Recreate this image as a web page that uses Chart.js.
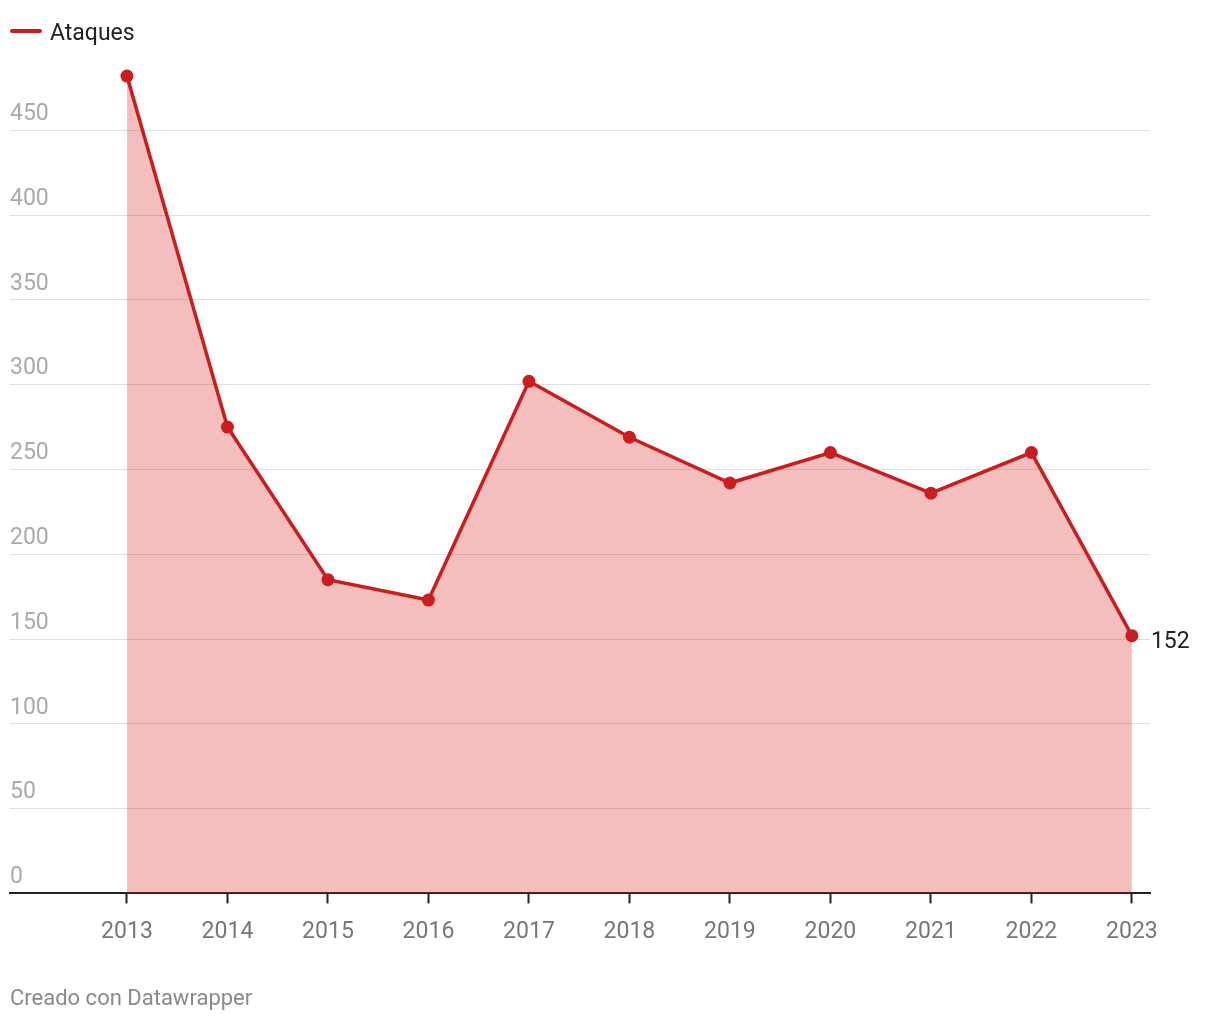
<!DOCTYPE html>
<html>
<head>
<meta charset="utf-8">
<script src="https://cdn.jsdelivr.net/npm/chart.js@4.4.1/dist/chart.umd.min.js"></script>
<style>
    html, body { margin: 0; padding: 0; background: #fff; }
    #wrap { width: 1220px; height: 1020px; position: relative; }
</style>
</head>
<body>
<div id="wrap"><canvas id="ataquesChart"></canvas></div>
<script>
const years = [2013, 2014, 2015, 2016, 2017, 2018, 2019, 2020, 2021, 2022, 2023];
const ataques = [482, 275, 185, 173, 302, 269, 242, 260, 236, 260, 152];
const yTicks = [0, 50, 100, 150, 200, 250, 300, 350, 400, 450];
const seriesLabel = 'Ataques';
const footerText = 'Creado con Datawrapper';

const RED = '#c91d1f';
const FONT = 'Roboto';

// small legend in the top left corner: line swatch + series name
const topLegend = {
    id: 'topLegend',
    afterDraw(chart) {
        const ctx = chart.ctx;
        ctx.save();
        ctx.strokeStyle = RED;
        ctx.lineWidth = 4;
        ctx.lineCap = 'round';
        ctx.beginPath();
        ctx.moveTo(12, 31);
        ctx.lineTo(40, 31);
        ctx.stroke();
        ctx.font = '23px ' + FONT;
        ctx.fillStyle = '#222';
        ctx.textAlign = 'left';
        ctx.textBaseline = 'alphabetic';
        ctx.fillText(seriesLabel, 50, 40);
        ctx.restore();
    }
};

// last value written next to the final point
const endLabel = {
    id: 'endLabel',
    afterDatasetsDraw(chart) {
        const meta = chart.getDatasetMeta(0);
        const last = meta.data[meta.data.length - 1];
        const ctx = chart.ctx;
        ctx.save();
        ctx.font = '23px ' + FONT;
        ctx.fillStyle = '#222';
        ctx.textAlign = 'left';
        ctx.textBaseline = 'alphabetic';
        ctx.fillText(String(ataques[ataques.length - 1]), last.x + 19, last.y + 12);
        ctx.restore();
    }
};

const footer = {
    id: 'footer',
    afterDraw(chart) {
        const ctx = chart.ctx;
        ctx.save();
        ctx.font = '22px ' + FONT;
        ctx.fillStyle = '#8a8a8a';
        ctx.textAlign = 'left';
        ctx.textBaseline = 'alphabetic';
        ctx.fillText(footerText, 10, 1005);
        ctx.restore();
    }
};

const ctx = document.getElementById('ataquesChart').getContext('2d');
new Chart(ctx, {
    type: 'line',
    data: {
        datasets: [{
            label: seriesLabel,
            data: years.map((y, i) => ({ x: y, y: ataques[i] })),
            borderColor: RED,
            backgroundColor: 'rgba(220, 40, 35, 0.3)',
            borderWidth: 3.5,
            fill: 'origin',
            tension: 0,
            pointRadius: 6.5,
            pointHoverRadius: 6.5,
            pointBackgroundColor: RED,
            pointBorderWidth: 0
        }]
    },
    options: {
        responsive: true,
        maintainAspectRatio: false,
        animation: false,
        layout: {
            padding: { top: 54, left: 10, right: 70, bottom: 59 }
        },
        plugins: {
            legend: { display: false },
            tooltip: { enabled: false }
        },
        scales: {
            x: {
                type: 'linear',
                min: 2011.836,
                max: 2023.18,
                afterBuildTicks: axis => { axis.ticks = years.map(v => ({ value: v })); },
                grid: {
                    drawOnChartArea: false,
                    drawTicks: true,
                    tickLength: 10,
                    tickColor: '#222',
                    tickWidth: 2
                },
                border: { display: true, color: '#222', width: 2 },
                ticks: {
                    color: '#777',
                    padding: 15,
                    maxRotation: 0,
                    autoSkip: false,
                    font: { family: FONT, size: 23 },
                    callback: v => String(v)
                }
            },
            y: {
                min: 0,
                max: 495,
                afterBuildTicks: axis => { axis.ticks = yTicks.map(v => ({ value: v })); },
                grid: {
                    color: '#e0e0e0',
                    lineWidth: 1,
                    drawTicks: false
                },
                border: { display: false },
                ticks: {
                    mirror: true,
                    padding: 0,
                    labelOffset: -16,
                    color: '#aaa',
                    font: { family: FONT, size: 23 }
                }
            }
        }
    },
    plugins: [topLegend, endLabel, footer]
});
</script>
</body>
</html>
